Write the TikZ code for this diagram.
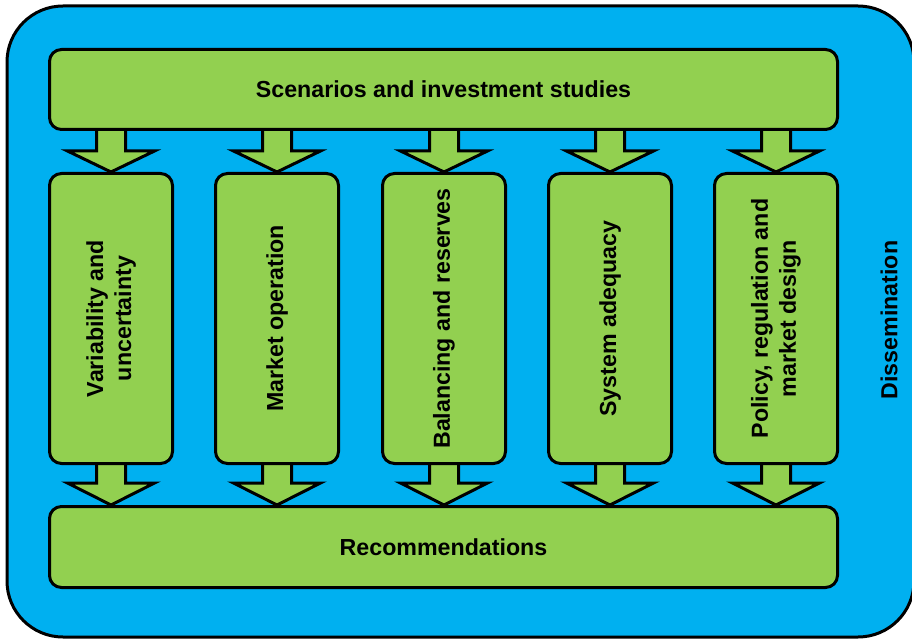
\documentclass[tikz,border=0pt]{standalone}
\usepackage{fontspec}
\setmainfont{Liberation Sans}
\usetikzlibrary{calc}
\definecolor{frameblue}{HTML}{00B0F0}
\definecolor{boxgreen}{HTML}{92D050}
\tikzset{
  frame/.style={draw=black, line width=3pt, fill=frameblue, rounded corners=56pt},
  gbox/.style={draw=black, line width=3pt, fill=boxgreen, rounded corners=12pt, inner sep=0pt},
  barrow/.style={draw=black, line width=3pt, fill=boxgreen, line join=miter},
  lbl/.style={font=\fontsize{23.2}{28}\selectfont\bfseries, align=center, inner sep=0pt},
}
\begin{document}
\begin{tikzpicture}[x=1pt, y=-1pt]
\useasboundingbox (0,0) rectangle (912,639);
\path[frame] (7,6) rectangle (914,637);
\node[lbl, rotate=90] (diss) at (889,320) {Dissemination};
% position coordinates
\path (443.5,89.5) coordinate (ptop) (443.5,547) coordinate (pbot);
\foreach \i/\x in {1/111,2/277,3/444,4/610,5/776} {
  \path (\x,318.5) coordinate (pc\i);
}
% arrows (drawn first, boxes cover their ends)
\foreach \i in {1,...,5} {
  \path[barrow]
    ($(ptop)+(0,40)$) coordinate (ta\i)
    ($(pc\i)+(0,-146.5)$) coordinate (tt\i)
    ($(ta\i -| tt\i)+(-14.5pt,2pt)$) -- ($(tt\i)+(-14.5pt,21pt)$) -- ($(tt\i)+(-43.5pt,21pt)$) -- (tt\i)
    -- ($(tt\i)+(43.5pt,21pt)$) -- ($(tt\i)+(14.5pt,21pt)$) -- ($(ta\i -| tt\i)+(14.5pt,2pt)$) -- cycle;
  \path[barrow]
    ($(pc\i)+(0,146.5)$) coordinate (ba\i)
    ($(pbot)+(0,-42)$) coordinate (bt\i)
    ($(ba\i)+(-14.5pt,2pt)$) -- ($(bt\i -| ba\i)+(-14.5pt,22pt)$) -- ($(bt\i -| ba\i)+(-43.5pt,22pt)$) -- (bt\i -| ba\i)
    -- ($(bt\i -| ba\i)+(43.5pt,22pt)$) -- ($(bt\i -| ba\i)+(14.5pt,22pt)$) -- ($(ba\i)+(14.5pt,2pt)$) -- cycle;
}
\node[gbox, minimum width=788pt, minimum height=80pt] (top) at (ptop) {};
\node[lbl] (ttop) at (top) {Scenarios and investment studies};
\node[gbox, minimum width=788pt, minimum height=81pt] (bot) at (pbot) {};
\node[lbl] (tbot) at (bot) {Recommendations};
\foreach \i/\t in {1/{Variability and\\uncertainty},2/{Market operation},3/{Balancing and reserves},4/{System adequacy},5/{Policy, regulation and\\market design}} {
  \node[gbox, minimum width=123pt, minimum height=290pt] (c\i) at (pc\i) {};
  \node[lbl, rotate=90] (t\i) at (c\i) {\t};
}
\end{tikzpicture}
\end{document}
